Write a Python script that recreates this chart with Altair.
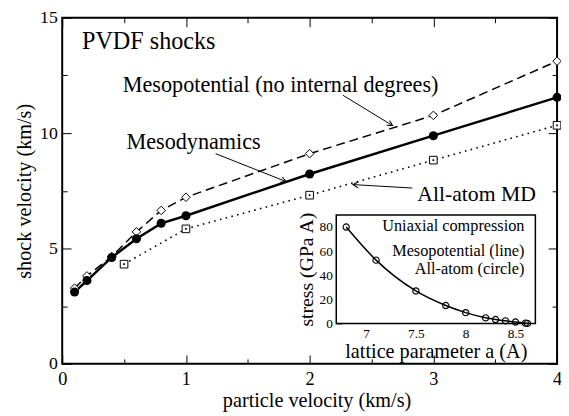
import math
import altair as alt
import pandas as pd

# ---------------- data ----------------
# main panel: particle velocity (km/s) -> shock velocity (km/s)
meso_x = [0.1, 0.2, 0.4, 0.6, 0.8, 1.0, 2.0, 3.0, 4.0]
meso_y = [3.11, 3.61, 4.61, 5.42, 6.09, 6.42, 8.23, 9.89, 11.55]
pot_x = [0.1, 0.2, 0.4, 0.6, 0.8, 1.0, 2.0, 3.0, 4.0]
pot_y = [3.28, 3.81, 4.65, 5.72, 6.65, 7.22, 9.11, 10.77, 13.12]
aa_x = [0.5, 1.0, 2.0, 3.0, 4.0]
aa_y = [4.32, 5.85, 7.31, 8.83, 10.34]

# inset: lattice parameter a (A) -> stress (GPa A)
inset_a = [6.8, 7.1, 7.5, 7.8, 8.0, 8.2, 8.3, 8.4, 8.5, 8.6, 8.62]
inset_s = [80.0, 52.5, 26.9, 14.8, 8.9, 4.6, 3.2, 2.1, 1.1, 0.2, 0.0]

# annotation arrows (start -> head), in main data units
arrow_x1 = [2.27, 1.24, 2.83]
arrow_y1 = [11.64, 9.11, 7.62]
arrow_x2 = [2.67, 1.81, 2.35]
arrow_y2 = [10.33, 7.90, 7.77]

# tick values
x_major = [0, 1, 2, 3, 4]
x_minor = [0.5, 1.5, 2.5, 3.5]
y_major = [0, 5, 10, 15]
y_minor = [2.5, 7.5, 12.5]
ix_major = [7, 7.5, 8, 8.5]
ix_minor = [6.75, 7.25, 7.75, 8.25]
iy_major = [0, 20, 40, 60, 80]
iy_minor = [10, 30, 50, 70]

# ---------------- layout ----------------
FONT = "Liberation Serif"
W, H = 502, 351
IN_L, IN_R, IN_T, IN_B = 278, 480, 200, 310   # inset frame inside the plot area

xs_main = alt.Scale(domain=[0, 4], nice=False, zero=False)
ys_main = alt.Scale(domain=[0, 15], nice=False, zero=False)
xs_in = alt.Scale(domain=[6.7, 8.7], nice=False, zero=False, range=[IN_L, IN_R])
ys_in = alt.Scale(domain=[0, 90], nice=False, zero=False, range=[IN_B, IN_T])


def axis(orient, values, size, base=0, labels=False, title=None, lsize=18,
         lpad=3, tsize=18, tpad=4, **extra):
    # ticks point inward: the axis line sits `size` px inside the frame
    kw = dict(orient=orient, values=values, tickSize=size, offset=-(base + size),
              domain=False, grid=False, labels=labels, ticks=True,
              tickColor="black", tickWidth=1, title=title)
    if labels:
        kw.update(labelFont=FONT, labelFontSize=lsize, labelPadding=lpad,
                  labelColor="black", labelFlush=False, labelOverlap=False,
                  labelBound=False, format="~f")
    if title:
        kw.update(titleFont=FONT, titleFontSize=tsize, titlePadding=tpad,
                  titleColor="black", titleFontWeight="normal")
    kw.update(extra)
    return alt.Axis(**kw)


NOAX = None


def mx(field="x", ax=NOAX):
    return alt.X(f"{field}:Q", scale=xs_main, axis=ax)


def my(field="y", ax=NOAX):
    return alt.Y(f"{field}:Q", scale=ys_main, axis=ax)


def ix(field="x", ax=NOAX):
    return alt.X(f"{field}:Q", scale=xs_in, axis=ax)


def iy(field="y", ax=NOAX):
    return alt.Y(f"{field}:Q", scale=ys_in, axis=ax)


meso = pd.DataFrame({"x": meso_x, "y": meso_y})
pot = pd.DataFrame({"x": pot_x, "y": pot_y})
aa = pd.DataFrame({"x": aa_x, "y": aa_y})
ins = pd.DataFrame({"x": inset_a, "y": inset_s})

# arrows
ang = []
for a, b, c, d in zip(arrow_x1, arrow_y1, arrow_x2, arrow_y2):
    dx = (c - a) * W / 4
    dy = -(d - b) * H / 15
    ang.append(math.degrees(math.atan2(dy, dx)) % 360)
arr = pd.DataFrame({"x": arrow_x1, "y": arrow_y1, "x2": arrow_x2, "y2": arrow_y2, "ang": ang})

# ---------------- main layers ----------------
meso_line = alt.Chart(meso).mark_line(color="black", strokeWidth=2.5).encode(
    x=mx(ax=axis("bottom", x_major, 9, labels=True, title="particle velocity (km/s)",
                 lsize=18.5, lpad=6, tsize=20.5, tpad=3, titleX=258)),
    y=my(ax=axis("left", y_major, 9, labels=True, title="shock velocity (km/s)",
                 lsize=18, lpad=5, tsize=20.5, tpad=5)),
)
meso_pts = alt.Chart(meso).mark_point(shape="circle", filled=True, color="black", size=85, opacity=1).encode(
    x=mx(ax=axis("bottom", x_minor, 5)),
    y=my(ax=axis("left", y_minor, 5)),
)
pot_line = alt.Chart(pot).mark_line(color="black", strokeWidth=1.5, strokeDash=[9, 5]).encode(
    x=mx(ax=axis("top", x_major, 9)),
    y=my(ax=axis("right", y_major, 9)),
)
pot_pts = alt.Chart(pot).mark_point(shape="diamond", filled=True, fill="white", stroke="black",
                                    strokeWidth=1, size=75, opacity=1).encode(
    x=mx(ax=axis("top", x_minor, 5)),
    y=my(ax=axis("right", y_minor, 5)),
)
aa_line = alt.Chart(aa).mark_line(color="black", strokeWidth=1.6, strokeDash=[1.6, 4.4]).encode(
    x=mx(), y=my())
aa_pts = alt.Chart(aa).mark_point(shape="square", filled=True, fill="white", stroke="black",
                                  strokeWidth=1, size=60, opacity=1).encode(x=mx(), y=my())
aa_dot = alt.Chart(aa).mark_point(shape="square", filled=True, color="black", size=3, opacity=1).encode(
    x=mx(), y=my())

arrow_lines = alt.Chart(arr).mark_rule(color="black", strokeWidth=1).encode(
    x=mx("x"), y=my("y"), x2="x2:Q", y2="y2:Q")
arrow_heads = alt.Chart(arr).mark_point(shape="M-1,-0.55L0,0L-1,0.55", filled=False, color="black",
                                        strokeWidth=1, size=110, opacity=1).encode(
    x=mx("x2"), y=my("y2"), angle=alt.Angle("ang:Q", scale=None))


def main_text(label, x, y, size, align="left"):
    d = pd.DataFrame({"x": [x], "y": [y], "t": [label]})
    return alt.Chart(d).mark_text(font=FONT, fontSize=size, align=align, baseline="middle",
                                  color="black").encode(x=mx(), y=my(), text="t:N")


txt_title = main_text("PVDF shocks", 0.16, 13.95, 24.5)
txt_pot = main_text("Mesopotential (no internal degrees)", 0.49, 12.07, 22.5)
txt_meso = main_text("Mesodynamics", 0.52, 9.6, 22.5)
txt_aa = main_text("All-atom MD", 2.87, 7.35, 22)

# ---------------- inset layers ----------------
frame = pd.DataFrame({"x": [6.7], "x2": [8.7], "y": [0], "y2": [90]})
inset_frame = alt.Chart(frame).mark_rect(fill="white", stroke="black", strokeWidth=1.5).encode(
    x=ix(ax=axis("bottom", ix_major, 6, base=H - IN_B, labels=True,
                 title="lattice parameter a (A)", lsize=13.5, lpad=3, tsize=20.5, tpad=2)),
    x2="x2:Q",
    y=iy(ax=axis("left", iy_major, 6, base=IN_L, labels=True, title="stress (GPa A)",
                 lsize=13.5, lpad=4, tsize=20, tpad=3)),
    y2="y2:Q",
)
inset_line = alt.Chart(ins).mark_line(color="black", strokeWidth=1.5, interpolate="monotone").encode(
    x=ix(ax=axis("bottom", ix_minor, 3, base=H - IN_B)),
    y=iy(ax=axis("left", iy_minor, 3, base=IN_L)),
)
inset_pts = alt.Chart(ins).mark_point(shape="circle", filled=False, color="black", strokeWidth=1.2,
                                      size=40, opacity=1).encode(x=ix(), y=iy())


def inset_text(label, x, y, size=16.5):
    d = pd.DataFrame({"x": [x], "y": [y], "t": [label]})
    return alt.Chart(d).mark_text(font=FONT, fontSize=size, align="right", baseline="middle",
                                  color="black").encode(x=ix(), y=iy(), text="t:N")


it1 = inset_text("Uniaxial compression", 8.59, 80.4)
it2 = inset_text("Mesopotential (line)", 8.59, 60.0)
it3 = inset_text("All-atom (circle)", 8.59, 45.3)

chart = alt.layer(
    aa_line, pot_line, meso_line, aa_pts, aa_dot, pot_pts, meso_pts,
    arrow_lines, arrow_heads, txt_title, txt_pot, txt_meso, txt_aa,
    inset_frame, inset_line, inset_pts, it1, it2, it3,
).resolve_scale(
    x="independent", y="independent"
).resolve_axis(
    x="independent", y="independent"
).properties(
    width=W, height=H,
    autosize=alt.AutoSizeParams(type="none"),
    padding={"left": 55, "top": 7, "right": 4, "bottom": 50},
    background="white",
).configure_view(
    stroke="black", strokeWidth=2
)

chart.save("out.html", embed_options={"renderer": "svg", "actions": False})
